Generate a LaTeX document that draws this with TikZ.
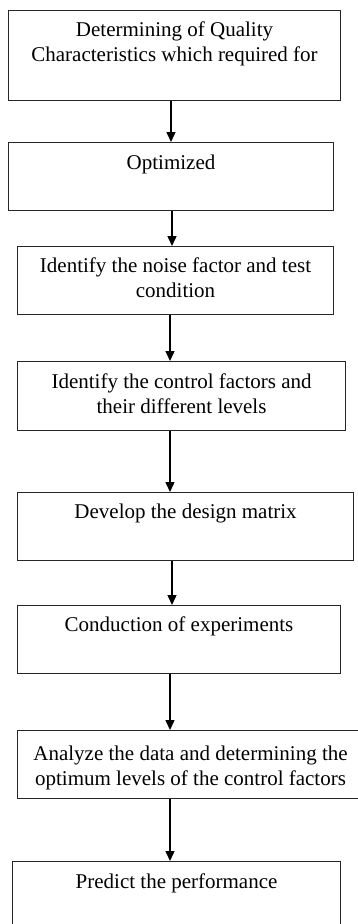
\documentclass[tikz,border=0pt]{standalone}
\usepackage{fontspec}
\setmainfont{Liberation Serif}
\usetikzlibrary{arrows.meta}
\tikzset{
  boxnode/.style={draw=black!85, line width=1.1pt, inner sep=0pt, anchor=north west, font=\fontsize{21}{24.5}\selectfont},
  arr/.style={line width=1.4pt, -{Triangle[width=9pt,length=10pt]}}
}
% \flowbox{name}{x1}{y1}{x2}{y2}{pad}{text}
\newcommand{\flowbox}[7]{%
  \pgfmathsetmacro{\bw}{#4-#2}%
  \pgfmathsetmacro{\bh}{#5-#3}%
  \node[boxnode] (#1) at (#2,-#3) {\parbox[c][\bh pt][t]{\bw pt}{\centering\vspace*{#6pt}\strut #7}};%
}
\begin{document}
\begin{tikzpicture}[x=1pt,y=1pt]
\clip (0,0) rectangle (358,-924);
\fill[white] (0,0) rectangle (358,-924);
\flowbox{b1}{8}{10}{340}{100}{9}{Determining of Quality\\Characteristics which required for}
\flowbox{b2}{8}{142}{333}{210}{10}{Optimized}
\flowbox{b3}{17}{246}{333}{314}{9}{Identify the noise factor and test\\condition}
\flowbox{b4}{17}{361}{345}{430}{10}{Identify the control factors and\\their different levels}
\flowbox{b5}{17}{492}{353}{560}{9}{Develop the design matrix}
\flowbox{b6}{17}{605}{340}{673}{9}{Conduction of experiments}
\flowbox{b7}{17}{730}{363}{798}{13}{Analyze the data and determining the\\optimum levels of the control factors}
\flowbox{b8}{12}{861}{340}{940}{10}{Predict the performance}
\draw[arr] (b1.south -| 171,0) -- (b2.north -| 171,0);
\draw[arr] (b2.south -| 172,0) -- (b3.north -| 172,0);
\draw[arr] (b3.south -| 170,0) -- (b4.north -| 170,0);
\draw[arr] (b4.south -| 170,0) -- (b5.north -| 170,0);
\draw[arr] (b5.south -| 172,0) -- (b6.north -| 172,0);
\draw[arr] (b6.south -| 170,0) -- (b7.north -| 170,0);
\draw[arr] (b7.south -| 170,0) -- (b8.north -| 170,0);
\end{tikzpicture}
\end{document}
